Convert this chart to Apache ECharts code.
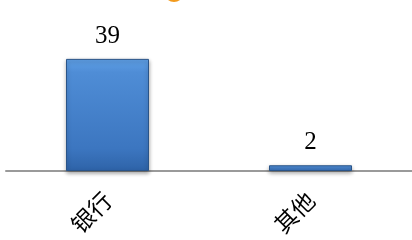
<!DOCTYPE html>
<html>
<head>
<meta charset="utf-8">
<script src="https://cdn.jsdelivr.net/npm/echarts@6/dist/echarts.min.js"></script>
<style>
  html, body { margin: 0; padding: 0; background: #fff; }
  #chart { width: 412px; height: 240px; }
</style>
</head>
<body>
<div id="chart"></div>
<script>
const categories = ['银行', '其他'];
const values = [39, 2];

const chart = echarts.init(document.getElementById('chart'));
const option = {
  animation: false,
  graphic: [
    {
      // orange mark cut off at the top edge
      type: 'circle',
      shape: { cx: 174, cy: -8, r: 10 },
      style: { fill: '#f29a1d' }
    }
  ],
  grid: {
    left: 6,
    right: -3,
    top: 56,
    bottom: 69,
    containLabel: false
  },
  xAxis: {
    type: 'category',
    data: categories,
    axisLine: { lineStyle: { color: '#9a9a9a', width: 2 } },
    axisTick: { show: false },
    axisLabel: {
      rotate: 45,
      margin: 25,
      fontSize: 23,
      color: '#000',
      fontFamily: 'Noto Sans CJK SC'
    }
  },
  yAxis: {
    type: 'value',
    min: 0,
    max: 40,
    show: false,
    splitLine: { show: false }
  },
  series: [
    {
      type: 'bar',
      data: values,
      barWidth: 83,
      label: {
        show: true,
        position: 'top',
        distance: 10,
        fontSize: 25,
        color: '#000',
        fontFamily: 'Liberation Serif'
      },
      itemStyle: {
        color: {
          type: 'linear', x: 0, y: 0, x2: 0, y2: 1,
          colorStops: [
            { offset: 0, color: '#5fa0e6' },
            { offset: 0.12, color: '#4f8dd6' },
            { offset: 0.8, color: '#3c76c0' },
            { offset: 1, color: '#2e63a8' }
          ]
        },
        borderColor: '#2a5488',
        borderWidth: 1,
        shadowColor: 'rgba(0,0,0,0.35)',
        shadowBlur: 4,
        shadowOffsetY: 2
      }
    }
  ]
};
chart.setOption(option);
window.addEventListener('resize', () => {
  chart.resize();
});
</script>
</body>
</html>
